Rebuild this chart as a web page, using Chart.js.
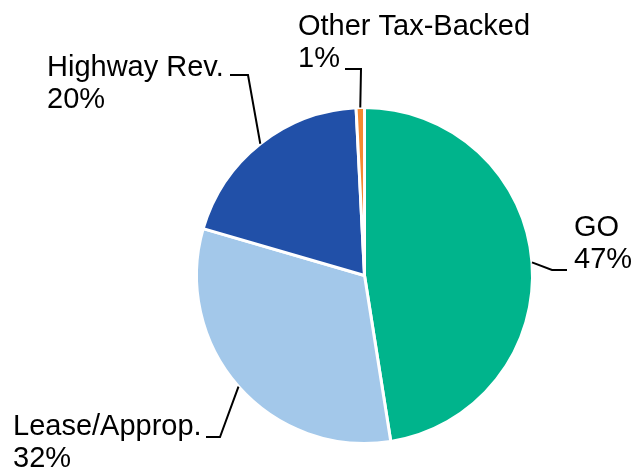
<!DOCTYPE html>
<html>
<head>
<meta charset="utf-8">
<script src="https://cdn.jsdelivr.net/npm/chart.js@4/dist/chart.umd.min.js"></script>
<style>
  html, body { margin: 0; padding: 0; background: #fff; }
  #wrap { width: 632px; height: 470px; }
</style>
</head>
<body>
<div id="wrap"><canvas id="pieChart" width="632" height="470"></canvas></div>
<script>
const categories = ['GO', 'Lease/Approp.', 'Highway Rev.', 'Other Tax-Backed'];
const shares = [47.5, 32.0, 19.7, 0.8];
const shareLabels = ['47%', '32%', '20%', '1%'];
const colors = ['#00B48C', '#A3C8EA', '#2150A8', '#F58A30'];

// where each label sits: text left x, first baseline, leader elbow and end
const labelLayout = [
  { tx: 574, ty: 236, elbow: [552, 270], end: [567, 270] },
  { tx: 13,  ty: 435, elbow: [220, 437], end: [206, 437] },
  { tx: 47,  ty: 76,  elbow: [248, 75],  end: [230, 75] },
  { tx: 298, ty: 35,  elbow: [361, 69],  end: [345, 69] }
];

const leaderLabels = {
  id: 'leaderLabels',
  afterDatasetsDraw(chart) {
    const ctx = chart.ctx;
    const arcs = chart.getDatasetMeta(0).data;
    ctx.save();
    ctx.strokeStyle = '#000';
    ctx.lineWidth = 2;
    ctx.fillStyle = '#000';
    ctx.font = '29px "Liberation Sans", Arial, sans-serif';
    ctx.textBaseline = 'alphabetic';
    arcs.forEach((arc, i) => {
      const p = arc.getProps(['x', 'y', 'startAngle', 'endAngle', 'outerRadius'], true);
      const mid = (p.startAngle + p.endAngle) / 2;
      const ax = p.x + Math.cos(mid) * p.outerRadius;
      const ay = p.y + Math.sin(mid) * p.outerRadius;
      const l = labelLayout[i];
      ctx.beginPath();
      ctx.moveTo(ax, ay);
      ctx.lineTo(l.elbow[0], l.elbow[1]);
      ctx.lineTo(l.end[0], l.end[1]);
      ctx.stroke();
      ctx.fillText(categories[i], l.tx, l.ty);
      ctx.fillText(shareLabels[i], l.tx, l.ty + 32);
    });
    ctx.restore();
  }
};

new Chart(document.getElementById('pieChart'), {
  type: 'pie',
  data: {
    labels: categories,
    datasets: [{
      data: shares,
      backgroundColor: colors,
      borderColor: '#fff',
      borderWidth: 3
    }]
  },
  options: {
    responsive: false,
    animation: false,
    layout: { padding: { top: 106, bottom: 25, left: 195, right: 98 } },
    plugins: {
      legend: { display: false },
      tooltip: { enabled: false }
    }
  },
  plugins: [leaderLabels]
});
</script>
</body>
</html>
